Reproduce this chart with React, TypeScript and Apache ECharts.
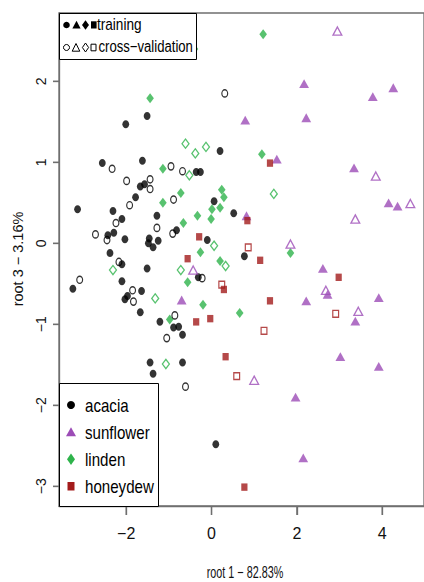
import React, { useEffect, useRef } from "react";
import * as echarts from "echarts";

// ---- data (root 1, root 3) ----
const acaciaTrain: [number, number][] = [
  [-2.01, 1.47], [-1.51, 1.57], [-2.56, 0.99], [-1.62, 1.02], [-0.36, 0.88], [-0.26, 0.88],
  [-1.57, 0.73], [-1.67, 0.7], [-1.78, 0.57], [0.2, 1.14], [0.06, 0.52], [-3.14, 0.42],
  [-2.31, 0.4], [-2.1, 0.3], [-1.28, 0.34], [-2.43, 0.1], [-2.29, 0.13], [-2.03, 0.05],
  [-1.46, 0.06], [-1.48, 0.0], [-1.25, 0.03], [-1.37, -0.05], [-0.82, 0.16], [-0.1, 0.04],
  [0.52, 0.37], [-2.38, -0.12], [-2.1, -0.26], [-1.51, -0.31], [0.77, -0.16], [-0.31, -0.42],
  [-3.25, -0.56], [-2.1, -0.47], [-1.64, -0.59], [-1.97, -0.65], [-2.03, -0.69], [-1.67, -0.85],
  [-1.21, -0.97], [-0.89, -1.04], [-0.77, -1.03], [-0.68, -1.13], [-1.44, -1.47], [-1.37, -1.61],
  [-0.68, -1.47], [0.1, -2.48],
];
const acaciaCV: [number, number][] = [
  [0.31, 1.85], [-2.33, 0.92], [-0.95, 0.95], [-0.68, 0.89], [-1.99, 0.77], [-1.44, 0.79],
  [-1.44, 0.67], [-1.92, 0.47], [-0.89, 0.54], [-2.24, 0.25], [-1.28, 0.19], [-0.91, 0.12],
  [-2.72, 0.11], [-2.45, 0.04], [-2.17, -0.23], [-3.09, -0.45], [-1.85, -0.58], [-1.83, -0.72],
  [-0.22, -0.43], [-0.86, -0.89], [-1.05, -1.17], [-0.61, -1.77],
];
const sunflowerTrain: [number, number][] = [
  [2.17, 1.97], [3.78, 1.81], [4.26, 1.92], [0.79, 1.52], [2.22, 1.55], [1.53, 1.04],
  [3.34, 0.93], [4.15, 0.5], [4.36, 0.46], [0.82, 0.34], [2.61, -0.31], [2.72, -0.63],
  [2.22, -0.71], [3.92, -0.67], [3.37, -0.96], [-0.7, -0.7], [3.02, -1.4], [3.92, -1.52],
  [1.97, -1.9], [2.15, -2.65],
];
const sunflowerCV: [number, number][] = [
  [2.95, 2.62], [3.85, 0.83], [4.66, 0.49], [3.37, 0.3], [1.85, -0.01], [-0.43, -0.33],
  [2.68, -0.58], [3.44, -0.84], [1.0, -1.69],
];
const lindenTrain: [number, number][] = [
  [-0.4, 2.4], [1.21, 2.58], [-1.44, 1.79], [-1.14, 0.92], [1.18, 1.1], [-0.72, 0.62],
  [-1.14, 0.5], [0.24, 0.66], [0.29, 0.57], [0.01, 0.42], [0.2, 0.44], [-0.01, 0.3],
  [-0.33, 0.34], [-0.66, 0.25], [-0.26, -0.11], [0.2, -0.22], [1.85, -0.12], [-0.56, -0.48],
  [-0.2, -0.76], [0.66, -0.86], [-0.98, -0.94],
];
const lindenCV: [number, number][] = [
  [-0.61, 1.23], [-0.38, 1.11], [-0.13, 1.19], [-0.52, 0.84], [1.46, 0.61], [0.06, -0.03],
  [0.33, -0.28], [-0.72, -0.33], [-2.31, -0.33], [-1.32, -0.68], [-1.07, -1.49],
];
const honeydewTrain: [number, number][] = [
  [1.37, 0.99], [0.84, 0.28], [-0.29, 0.08], [-0.56, -0.19], [1.14, -0.21], [2.98, -0.42],
  [0.29, -0.57], [1.37, -0.71], [-0.36, -0.97], [-0.03, -0.93], [0.33, -1.4], [0.77, -3.01],
];
const honeydewCV: [number, number][] = [
  [0.86, -0.05], [0.24, -0.51], [2.91, -0.87], [1.23, -1.08], [0.59, -1.64],
];

const xTicks = [-2, 0, 2, 4];
const yTicks = [-3, -2, -1, 0, 1, 2];
const classNames = ["acacia", "sunflower", "linden", "honeydew"];
const xTitle = "root 1 \u2212 82.83%";
const yTitle = "root 3 \u2212 3.16%";
const groupLabels = ["training", "cross\u2212validation"];

const COLORS = { acacia: "#000000", sunflower: "#9c4cb6", linden: "#2eb34b", honeydew: "#a31b1b" };
const REG = "'Liberation Sans', Arial, sans-serif";
const AX = "#6f6f6f";
const ELLIPSE = "path://M0,-1C0.55,-1 1,-0.55 1,0C1,0.55 0.55,1 0,1C-0.55,1 -1,0.55 -1,0C-1,-0.55 -0.55,-1 0,-1Z";

function series(name: string, data: [number, number][], symbol: string, size: number[], color: string, open: boolean) {
  return {
    type: "scatter",
    name,
    data,
    symbol,
    symbolSize: size,
    silent: true,
    itemStyle: open
      ? { color: "rgba(255,255,255,0)", borderColor: color, borderWidth: 1.3 }
      : { color, borderWidth: 0 },
  };
}

export default function App() {
  const ref = useRef<HTMLDivElement>(null);
  useEffect(() => {
    document.body.style.margin = "0";
    if (!ref.current) return;
    const chart = echarts.init(ref.current, undefined, { renderer: "svg" });
    const minus = (v: number) => String(v).replace("-", "\u2212");
    const black = "#000";
    const xMin = -3.575, xMax = 4.98, yMin = -3.243, yMax = 2.843;
    const option: any = {
      animation: false,
      backgroundColor: "#fff",
      grid: { left: 59, top: 13, right: -7, bottom: 76, show: true, borderColor: AX, borderWidth: 1.3, backgroundColor: "transparent" },
      xAxis: {
        type: "value", min: xMin, max: xMax,
        axisLine: { show: true, onZero: false, lineStyle: { color: AX, width: 1.3 } }, splitLine: { show: false },
        axisTick: { show: true, inside: false, length: 9, lineStyle: { color: AX, width: 1.3 }, customValues: xTicks },
        axisLabel: { customValues: xTicks, formatter: minus, margin: 19, fontSize: 16, color: "#111", fontFamily: REG },
      },
      yAxis: {
        type: "value", min: yMin, max: yMax,
        axisLine: { show: true, onZero: false, lineStyle: { color: AX, width: 1.3 } }, splitLine: { show: false },
        axisTick: { show: true, inside: false, length: 6, lineStyle: { color: AX, width: 1.3 }, customValues: yTicks },
        axisLabel: { customValues: yTicks, formatter: minus, rotate: 90, margin: 11, fontSize: 14, color: "#111", fontFamily: REG },
      },
      series: [
        series(classNames[0], acaciaTrain, ELLIPSE, [6.8, 8], COLORS.acacia, false),
        series(classNames[1], sunflowerTrain, "triangle", [9.8, 8.8], COLORS.sunflower, false),
        series(classNames[2], lindenTrain, "diamond", [7.6, 10], COLORS.linden, false),
        series(classNames[3], honeydewTrain, "rect", [6.2, 7.4], COLORS.honeydew, false),
        series(classNames[0] + " (cv)", acaciaCV, ELLIPSE, [5.8, 7.2], COLORS.acacia, true),
        series(classNames[1] + " (cv)", sunflowerCV, "triangle", [8.8, 8.2], COLORS.sunflower, true),
        series(classNames[2] + " (cv)", lindenCV, "diamond", [7, 9.2], COLORS.linden, true),
        series(classNames[3] + " (cv)", honeydewCV, "rect", [5.8, 6.8], COLORS.honeydew, true),
      ],
      graphic: [
        // top legend
        { type: "rect", z: 100, shape: { x: 59.5, y: 13.5, width: 137, height: 46 }, style: { fill: "#fff", stroke: black, lineWidth: 1 } },
        { type: "circle", z: 101, shape: { cx: 66.5, cy: 25, r: 3.3 }, style: { fill: black } },
        { type: "polygon", z: 101, shape: { points: [[76.5, 20.8], [80.6, 28.6], [72.4, 28.6]] }, style: { fill: black } },
        { type: "polygon", z: 101, shape: { points: [[85.5, 20.3], [89, 25], [85.5, 29.7], [82, 25]] }, style: { fill: black } },
        { type: "rect", z: 101, shape: { x: 91, y: 21.3, width: 5.6, height: 7.2 }, style: { fill: black } },
        { type: "circle", z: 101, shape: { cx: 66.5, cy: 47.5, r: 3 }, style: { fill: "none", stroke: black, lineWidth: 1 } },
        { type: "polygon", z: 101, shape: { points: [[76, 43.5], [79.8, 51.2], [72.2, 51.2]] }, style: { fill: "none", stroke: black, lineWidth: 1 } },
        { type: "polygon", z: 101, shape: { points: [[85.5, 43], [88.6, 47.5], [85.5, 52], [82.4, 47.5]] }, style: { fill: "none", stroke: black, lineWidth: 1 } },
        { type: "rect", z: 101, shape: { x: 91, y: 44.2, width: 5, height: 6.6 }, style: { fill: "none", stroke: black, lineWidth: 1 } },
        { type: "text", z: 101, x: 97, y: 24.5, scaleX: 0.85, style: { text: groupLabels[0], fill: black, font: "16px " + REG, verticalAlign: "middle", align: "left" } },
        { type: "text", z: 101, x: 98.5, y: 47, scaleX: 0.82, style: { text: groupLabels[1], fill: black, font: "16px " + REG, verticalAlign: "middle", align: "left" } },
        // bottom legend
        { type: "rect", z: 100, shape: { x: 59.5, y: 383.5, width: 99, height: 123 }, style: { fill: "#fff", stroke: black, lineWidth: 1 } },
        { type: "circle", z: 101, shape: { cx: 71, cy: 405, r: 4 }, style: { fill: COLORS.acacia } },
        { type: "polygon", z: 101, shape: { points: [[71, 427.3], [76, 436.3], [66, 436.3]] }, style: { fill: COLORS.sunflower } },
        { type: "polygon", z: 101, shape: { points: [[71, 453.5], [75, 459.3], [71, 465], [67, 459.3]] }, style: { fill: COLORS.linden } },
        { type: "rect", z: 101, shape: { x: 67.5, y: 482, width: 7, height: 8.5 }, style: { fill: COLORS.honeydew } },
        ...classNames.map((n, i) => ({
          type: "text", z: 101, x: 85, y: 406 + i * 27, scaleX: 0.84,
          style: { text: n, fill: black, font: "18px " + REG, verticalAlign: "middle", align: "left" },
        })),
        // axis titles
        { type: "text", z: 50, x: 245, y: 572.5, scaleX: 0.72, scaleY: 1.1, style: { text: xTitle, fill: "#111", font: "15px " + REG, align: "center", verticalAlign: "middle" } },
        { type: "text", z: 50, x: 17.5, y: 259, rotation: Math.PI / 2, style: { text: yTitle, fill: "#111", font: "14.5px " + REG, align: "center", verticalAlign: "middle" } },
      ],
    };
    chart.setOption(option);

    // tick marks as thin rects, placed through the chart's own scales
    try {
      const tickEls: any[] = [];
      xTicks.forEach((v, i) => {
        const p = chart.convertToPixel({ xAxisIndex: 0, yAxisIndex: 0 } as any, [v, yMin]) as any;
        if (p && isFinite(p[0])) {
          tickEls.push({ type: "rect", id: "xt" + i, z: 90, shape: { x: p[0] - 0.65, y: p[1], width: 1.3, height: 9 }, style: { fill: AX } });
        }
      });
      yTicks.forEach((v, i) => {
        const p = chart.convertToPixel({ xAxisIndex: 0, yAxisIndex: 0 } as any, [xMin, v]) as any;
        if (p && isFinite(p[1])) {
          tickEls.push({ type: "rect", id: "yt" + i, z: 90, shape: { x: p[0] - 6, y: p[1] - 0.65, width: 6, height: 1.3 }, style: { fill: AX } });
        }
      });
      if (tickEls.length) chart.setOption({ graphic: tickEls });
    } catch (e) {
      // ignore
    }

    return () => chart.dispose();
  }, []);
  return <div ref={ref} style={{ width: 424, height: 582 }} />;
}
